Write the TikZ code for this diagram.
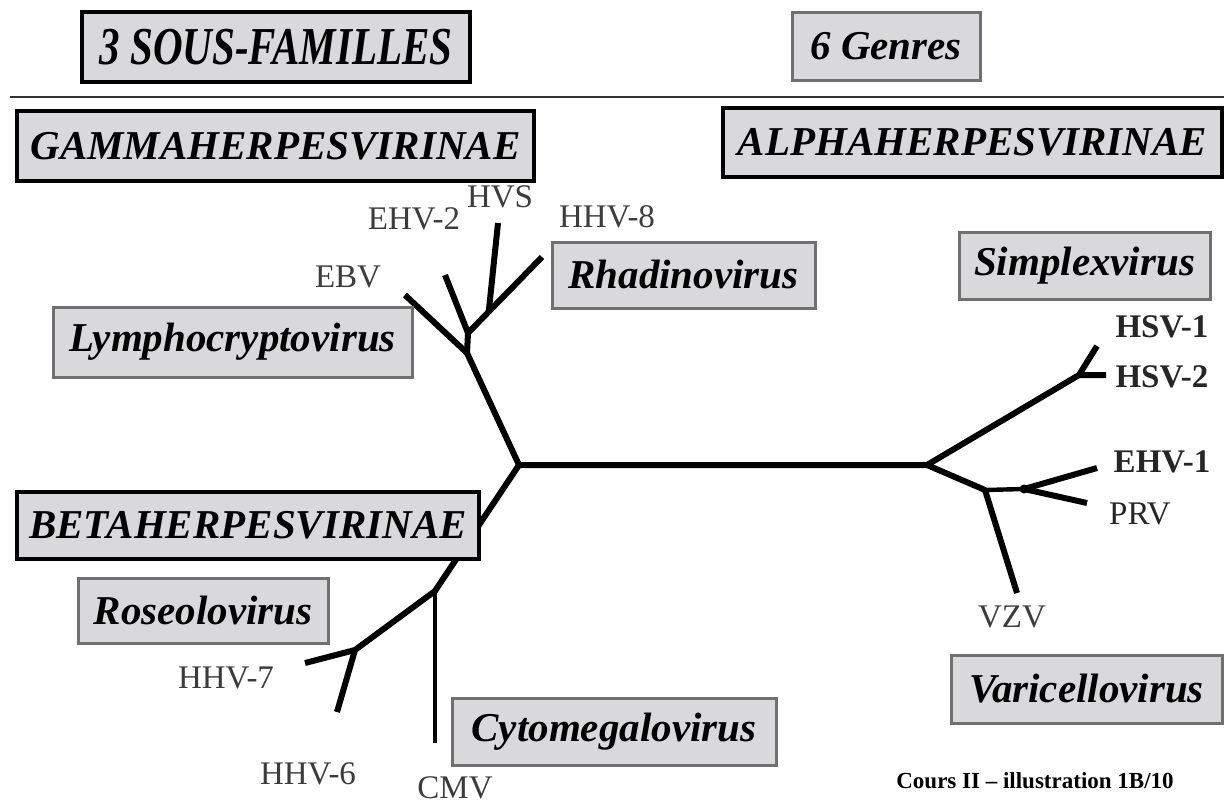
\documentclass[tikz,border=0pt]{standalone}
\usepackage{fontspec}
\usepackage{graphicx}
\usetikzlibrary{calc}
\setmainfont{Liberation Serif}
\definecolor{boxgray}{RGB}{217,217,219}
\definecolor{bordgray}{RGB}{112,112,112}
\definecolor{labgray}{RGB}{60,60,60}
\newcommand\ttlfnt{\fontsize{20.5}{24}\selectfont\bfseries\itshape}
\newcommand\lblfnt{\fontsize{16.5}{20}\selectfont}
\begin{document}
\begin{tikzpicture}[x=0.5pt,y=-0.5pt,
  fambox/.style={draw=black, line width=2.2pt, fill=boxgray, inner sep=0pt, font=\ttlfnt},
  genbox/.style={draw=bordgray, line width=1.5pt, fill=boxgray, inner sep=0pt, font=\ttlfnt},
  tree/.style={line width=3pt, line join=round, line cap=butt},
  thintree/.style={line width=2.2pt, line cap=butt},
  virlab/.style={font=\lblfnt, text=labgray, inner sep=0pt},
  virlabb/.style={font=\lblfnt\bfseries, text=black!85, inner sep=0pt}]
\useasboundingbox (0,0) rectangle (1224,803);
% separator
\coordinate (sepL) at (10,97);
\coordinate (sepR) at (1224,97);
\draw[line width=1pt, black!80] (sepL) -- (sepR);
% tree coordinates
\coordinate (R) at (519,465);
\coordinate (A0) at (927,465);
\coordinate (J1) at (467,353);
\coordinate (J2) at (468,333);
\coordinate (EBVt) at (405,295);
\coordinate (E2t) at (445,275);
\coordinate (H8t) at (542,257);
\coordinate (J3) at ($(J2)!0.28!(H8t)$);
\coordinate (HVSt) at (498,223);
\coordinate (B1) at (435,591);
\coordinate (B2) at (355,650);
\coordinate (H7t) at (305,663);
\coordinate (H6t) at (337,712);
\coordinate (CMVt) at (435,743);
\coordinate (S1) at (1079,375);
\coordinate (HS1t) at (1097,346);
\coordinate (HS2t) at (1106,375);
\coordinate (A1) at (985,490);
\coordinate (VZVt) at (1017,593);
\coordinate (A2) at (1024,489);
\coordinate (E1t) at (1097,468);
\coordinate (PRVt) at (1087,503);
% tree
\draw[tree] (EBVt) -- (J1) -- (R) -- (B1) -- (B2) -- (H7t);
\draw[tree] (J1) -- (J2);
\draw[tree] (E2t) -- (J2) -- (H8t);
\draw[tree] (HVSt) -- (J3);
\draw[tree] (B2) -- (H6t);
\draw[thintree] (B1) -- (CMVt);
\draw[tree] (R) -- (A0) -- (S1) -- (HS2t);
\draw[tree] (S1) -- (HS1t);
\draw[tree] (A0) -- (A1) -- (VZVt);
\draw[thintree] (A1) -- (A2);
\draw[tree] (A2) -- (E1t);
\draw[tree] (A2) -- (PRVt);
\fill (A2) circle (4.5);
% boxes
\node[fambox, minimum width=194pt, minimum height=35pt] (sous) at (276,47) {\scalebox{1}[1.3]{3 SOUS-FAMILLES}};
\node[genbox, minimum width=94pt, minimum height=34pt] (genres) at (886,46) {6 Genres};
\node[fambox, minimum width=258.5pt, minimum height=35pt] (gamma) at (275.5,146) {GAMMAHERPESVIRINAE};
\node[fambox, minimum width=249.5pt, minimum height=34.5pt] (alpha) at (972.5,142.5) {ALPHAHERPESVIRINAE};
\node[fambox, minimum width=231pt, minimum height=33.5pt] (beta) at (248,525.5) {BETAHERPESVIRINAE};
\node[genbox, minimum width=131.5pt, minimum height=33pt] (rhadino) at (683.5,275) {Rhadinovirus};
\node[genbox, minimum width=125.5pt, minimum height=33.5pt] (simplex) at (1084.5,265.5) {Simplexvirus};
\node[genbox, minimum width=179.5pt, minimum height=35pt] (lympho) at (232.5,342) {Lymphocryptovirus};
\node[genbox, minimum width=125pt, minimum height=32.5pt] (roseolo) at (203,610.5) {Roseolovirus};
\node[genbox, minimum width=162pt, minimum height=33.5pt] (cyto) at (614,731.5) {Cytomegalovirus};
\node[genbox, minimum width=135.5pt, minimum height=34pt] (varicello) at (1086.5,689) {Varicellovirus};
% virus labels
\node[virlab] (lEBV) at (348,277) {EBV};
\node[virlab] (lEHV2) at (414,219) {EHV-2};
\node[virlab] (lHVS) at (500,197) {HVS};
\node[virlab] (lHHV8) at (607,217) {HHV-8};
\node[virlab] (lHHV7) at (226,678) {HHV-7};
\node[virlab] (lHHV6) at (308,774) {HHV-6};
\node[virlab] (lCMV) at (455,788) {CMV};
\node[virlab] (lVZV) at (1012,617) {VZV};
\node[virlabb] (lHSV1) at (1162,327) {HSV-1};
\node[virlabb] (lHSV2) at (1162,377) {HSV-2};
\node[virlabb] (lEHV1) at (1162,462) {EHV-1};
\node[virlab, text=black!85] (lPRV) at (1140,514) {PRV};
\node[inner sep=0pt, font=\fontsize{11.5}{14}\selectfont\bfseries] (cours) at (1035,781) {Cours II -- illustration 1B/10};
\end{tikzpicture}
\end{document}
